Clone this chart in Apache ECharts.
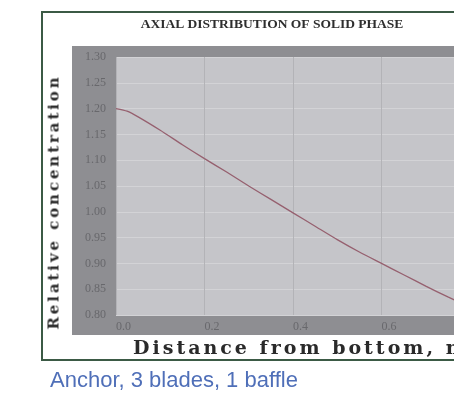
<!DOCTYPE html>
<html>
<head>
<meta charset="utf-8">
<script src="https://cdn.jsdelivr.net/npm/echarts@6/dist/echarts.min.js"></script>
<style>
  html, body { margin: 0; padding: 0; background: #fff; overflow: hidden; }
  #wrap { position: relative; width: 454px; height: 398px; overflow: hidden; }
  #chart { position: absolute; left: 0; top: 0; width: 454px; height: 398px; }
  .axname { position: absolute; white-space: nowrap; font-family: "DejaVu Serif", serif; font-weight: bold; color: #2a2a2a; }
  #xname { left: 133px; top: 338px; font-size: 19px; line-height: 19px; letter-spacing: 3px; }
  #yname { left: 54px; top: 202px; font-size: 15px; line-height: 15px; letter-spacing: 2.9px;
           transform: translate(-50%, -50%) rotate(-90deg); }
</style>
</head>
<body>
<div id="wrap">
  <div id="chart"></div>
  <div id="xname" class="axname">Distance from bottom, m</div>
  <div id="yname" class="axname">Relative concentration</div>
</div>
<script>
// values
const distance = [0, 0.025, 0.05, 0.1, 0.15, 0.2, 0.25, 0.3, 0.35, 0.4, 0.45, 0.5, 0.55, 0.6, 0.65, 0.7, 0.75, 0.8];
const concentration = [1.200, 1.195, 1.184, 1.158, 1.130, 1.103, 1.077, 1.050, 1.024, 0.998, 0.972, 0.946, 0.922, 0.900, 0.878, 0.856, 0.835, 0.815];

const titleText = "AXIAL DISTRIBUTION OF SOLID PHASE";
const captionText = "Anchor, 3 blades, 1 baffle";

const chart = echarts.init(document.getElementById("chart"), null, { renderer: "canvas" });

chart.setOption({
    animation: false,
    backgroundColor: "#ffffff",
    graphic: [
        {
            type: "rect", z: -10, silent: true,
            shape: { x: 42, y: 12, width: 620, height: 348 },
            style: { fill: "#ffffff", stroke: "#3b5a45", lineWidth: 2 },
        },
        {
            type: "rect", z: -9, silent: true,
            shape: { x: 72, y: 46, width: 620, height: 289 },
            style: { fill: "#8e8e92" },
        },
        {
            type: "text", silent: true, x: 272, y: 25,
            style: {
                text: titleText, align: "center", verticalAlign: "middle",
                font: "bold 13.5px 'Liberation Serif', serif", fill: "#2e2e2e",
            },
        },
        {
            type: "text", silent: true, x: 50, y: 381,
            style: {
                text: captionText, align: "left", verticalAlign: "middle",
                font: "22px 'Liberation Sans', Arial, sans-serif", fill: "#4f6fb8",
            },
        },
    ],
    grid: {
        left: 116,
        top: 57,
        width: 442.5,
        height: 258,
        containLabel: false,
        outerBoundsMode: "none",
        show: true,
        backgroundColor: "#c5c5c9",
        borderWidth: 0,
    },
    xAxis: {
        type: "value",
        min: 0,
        max: 1,
        interval: 0.2,
        axisLine: { show: false },
        axisTick: { show: false },
        axisLabel: {
            formatter: (v) => v.toFixed(1),
            align: "left",
            margin: 6,
            color: "#68686c",
            fontFamily: "Liberation Serif",
            fontSize: 12,
        },
        splitLine: { show: true, lineStyle: { color: "#b3b3b7", width: 1 } },
    },
    yAxis: {
        type: "value",
        min: 0.8,
        max: 1.3,
        interval: 0.05,
        axisLine: { show: false },
        axisTick: { show: false },
        axisLabel: {
            formatter: (v) => v.toFixed(2),
            margin: 10,
            color: "#68686c",
            fontFamily: "Liberation Serif",
            fontSize: 12,
        },
        splitLine: { show: true, lineStyle: { color: "#d3d3d6", width: 1 } },
    },
    series: [
        {
            type: "line",
            data: distance.map((d, i) => [d, concentration[i]]),
            smooth: 0.2,
            showSymbol: false,
            lineStyle: { color: "#96606f", width: 1.3 },
        },
    ],
});
</script>
</body>
</html>
